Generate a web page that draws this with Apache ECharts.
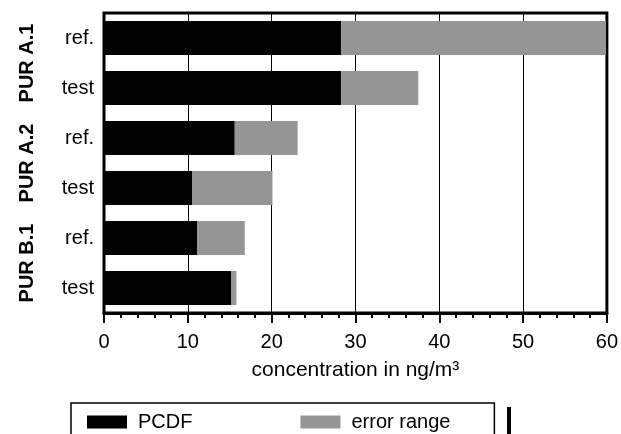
<!DOCTYPE html>
<html>
<head>
<meta charset="utf-8">
<script src="https://cdn.jsdelivr.net/npm/echarts@6/dist/echarts.min.js"></script>
<style>html,body{margin:0;padding:0;background:#fff}#c{width:621px;height:434px}</style>
</head>
<body>
<div id="c"></div>
<script>
const groups = ['PUR A.1', 'PUR A.2', 'PUR B.1'];
const categories = ['ref.', 'test', 'ref.', 'test', 'ref.', 'test'];
const pcdf = [28.3, 28.3, 15.6, 10.5, 11.1, 15.2];
const errorTop = [59.9, 37.5, 23.1, 20.1, 16.8, 15.8];
const errorRange = errorTop.map((t, i) => +(t - pcdf[i]).toFixed(2));
const xTicks = [0, 10, 20, 30, 40, 50, 60];

const FONT = "'Liberation Sans', Arial, sans-serif";
const chart = echarts.init(document.getElementById('c'), null, {renderer: 'canvas'});
chart.setOption({
  animation: false,
  backgroundColor: '#fff',
  grid: {left: 104, right: 13, top: 13, bottom: 121, show: true, borderColor: '#000', borderWidth: 3, backgroundColor: 'transparent'},
  legend: {
    left: 71, top: 403, orient: 'horizontal',
    padding: [9, 44, 24, 16],
    borderColor: '#000', borderWidth: 1.5, borderRadius: 0,
    itemWidth: 40, itemHeight: 13, itemGap: 108,
    selectedMode: false,
    textStyle: {fontFamily: FONT, fontSize: 20, color: '#000', padding: [0, 0, 0, 6]},
    data: [{name: 'PCDF', icon: 'rect'}, {name: 'error range', icon: 'rect'}]
  },
  xAxis: {
    type: 'value', min: 0, max: 60, interval: 10,
    name: 'concentration in ng/m³', nameLocation: 'middle', nameGap: 47,
    nameTextStyle: {fontFamily: FONT, fontSize: 21, color: '#000'},
    axisLine: {show: true, lineStyle: {color: '#000', width: 3}},
    axisTick: {show: true, length: 10, lineStyle: {color: '#000', width: 2}},
    minorTick: {show: true, splitNumber: 5, length: 5, lineStyle: {color: '#000', width: 2}},
    splitLine: {show: true, lineStyle: {color: '#000', width: 1}},
    axisLabel: {fontFamily: FONT, fontSize: 20, color: '#000', margin: 19,
      formatter: v => xTicks.includes(v) ? String(v) : ''}
  },
  yAxis: [{
    type: 'category', data: categories, inverse: true,
    axisLine: {show: false}, axisTick: {show: false},
    axisLabel: {fontFamily: FONT, fontSize: 20, color: '#000', margin: 10, interval: 0}
  }, {
    type: 'category', data: groups, inverse: true, position: 'left', offset: 59,
    axisLine: {show: false}, axisTick: {show: false},
    axisLabel: {fontFamily: FONT, fontSize: 20, fontWeight: 'bold', color: '#000', margin: 8,
      interval: 0, hideOverlap: false,
      rotate: 90, align: 'center', verticalAlign: 'bottom'}
  }],
  series: [{
    name: 'PCDF', type: 'bar', stack: 'a', data: pcdf, barWidth: 34,
    itemStyle: {color: '#000'}
  }, {
    name: 'error range', type: 'bar', stack: 'a', data: errorRange, barWidth: 34,
    itemStyle: {color: '#959595'}
  }],
  graphic: [{
    type: 'rect', shape: {x: 507, y: 407, width: 4, height: 30}, style: {fill: '#000'}
  }]
});
</script>
</body>
</html>
